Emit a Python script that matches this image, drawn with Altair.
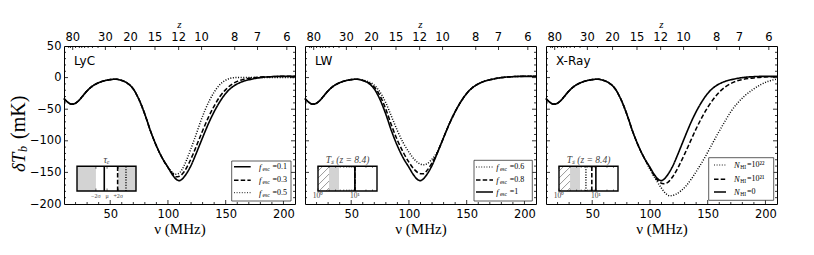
import altair as alt
import numpy as np
import pandas as pd

W, H = 231, 158

# ---------------- data ----------------
# fiducial brightness-temperature curve (solid line in every panel)
NU_FID = [10, 12, 14, 17, 20, 23, 26, 30, 35, 40, 45, 50, 55, 60, 65, 70, 75, 80, 85, 90,
          95, 100, 104, 108, 110, 112, 116, 120, 124, 128, 132, 136, 140, 145, 150, 155,
          160, 165, 170, 175, 180, 190, 200, 210]
DT_FID = [-33, -37, -40, -42, -40.5, -36, -29.5, -21, -13, -8, -5, -3.2, -2.5, -4.5, -9, -18,
          -35, -58, -85, -108, -127, -142, -154, -162, -163, -161, -152, -139, -122, -104,
          -86, -69, -54, -38, -25, -16, -10, -6, -3.5, -1.5, 0, 1.5, 2, 2]

# LyC panel: f_esc = 0.3 (dashed), 0.5 (dotted)
NU_LYC_03 = [104, 107, 110, 114, 118, 122, 126, 130, 135, 140, 145, 150, 155, 160, 165, 170,
             175, 180, 190, 200, 210]
DT_LYC_03 = [-152, -157, -156, -149, -136, -120, -102, -84, -63, -45, -30, -19, -11, -6, -3,
             -1.2, 0, 0.8, 1.5, 2, 2]
NU_LYC_05 = [104, 106, 109, 112, 116, 120, 124, 128, 132, 136, 140, 145, 150, 154, 158, 162,
             170, 180, 190, 200, 210]
DT_LYC_05 = [-150, -153, -152, -146, -131, -112, -92, -71, -52, -36, -23, -11, -4, -1, 0, 0,
             0, 0, 0, 0, 0]

# LW panel: f_esc = 0.8 (dashed), 0.6 (dotted)
NU_LW = [60, 65, 70, 75, 80, 85, 90, 95, 100, 105, 110, 113, 116, 120, 124, 128]
DT_LW_08 = [-4.5, -8, -15, -29, -50, -76, -99, -118, -134, -146, -152, -152, -146, -135, -121, -104]
DT_LW_06 = [-4, -6.5, -12, -23, -40, -62, -84, -103, -118, -130, -137, -138, -136, -129, -119, -104]

# X-ray panel: N_HI = 1e21 (dashed), 1e22 (dotted)
NU_X_21 = [100, 104, 108, 112, 116, 120, 125, 130, 135, 140, 145, 150, 155, 160, 165, 170,
           175, 180, 190, 200, 210]
DT_X_21 = [-143, -156, -165, -168, -165, -156, -140, -121, -101, -81, -63, -47, -34, -23, -15,
           -9.5, -5.5, -3, -0.5, 1, 1.5]
NU_X_22 = [96, 100, 105, 110, 114, 117, 122, 127, 131, 136, 141, 147, 153, 159, 165, 170, 176,
           182, 189, 196, 203, 210]
DT_X_22 = [-131, -145, -161, -175, -184, -187, -185, -179, -172, -160, -146, -128, -108, -88,
           -69, -54, -40, -29, -19, -11, -5.5, -2.5]

# axes
Z_MAJOR = [80, 30, 20, 15, 12, 10, 8, 7, 6]
Z_MINOR = [100, 90, 70, 60, 55, 50, 45, 40, 35, 25]
X_MAJOR = [50, 100, 150, 200]
X_MINOR = [20, 30, 40, 60, 70, 80, 90, 110, 120, 130, 140, 160, 170, 180, 190]
Y_LABELS = [-200, -150, -100, -50, 0, 50]
Y_MAJOR = [-150, -100, -50, 0]
Y_MINOR = [v for v in range(-190, 50, 10) if v % 50 != 0]
NU21 = 1420.4

# legends
LYC_FESC = ['0.1', '0.3', '0.5']
LW_FESC = ['0.6', '0.8', '1']
X_NHI = ['10²²', '10²¹', '0']

# insets
TAU_LIM = [-5.4, 5.2]          # sigma units
TAU_LINES = [3.4, 1.9, -0.5]   # dotted, dashed, solid
TAU_TICKS = [-2, 0, 2]
TAU_LABELS = ['−2σ', 'μ', '+2σ']
TS_LIM = [0.0, 1.6]            # log10 T_S
TS_HATCH = [0.0, 0.30]
TS_GRAY = [0.30, 0.57]
TS_LW_LINES = [1.0, 1.0, 1.0]  # dotted, dashed, solid
TS_X_LINES = [0.73, 0.89, 1.0]
TS_TICKS = [0, 1]
TS_LABELS = ['10⁰', '10¹']
TS_MINOR = [float(np.log10(v)) for v in [2, 3, 4, 5, 6, 7, 8, 9, 20, 30]]

# ---------------- styling ----------------
SANS = 'DejaVu Sans'
SERIF = 'Liberation Serif'
STYLES = ['solid', 'dashed', 'dotted']
DASH_MAP = {'solid': [1, 0], 'dashed': [4.5, 2.2], 'dotted': [1, 1.6]}
WIDTH_MAP = {'solid': 1.6, 'dashed': 1.5, 'dotted': 0.9}
XS = alt.Scale(domain=[10, 210], nice=False, zero=False)
YS = alt.Scale(domain=[-200, 50], nice=False, zero=False)
DASH = alt.Scale(domain=STYLES, range=[DASH_MAP[s] for s in STYLES])
WIDTH = alt.Scale(domain=STYLES, range=[WIDTH_MAP[s] for s in STYLES])
ONE = pd.DataFrame({'k': [0]})

XAXIS = alt.Axis(values=X_MAJOR, ticks=False, domain=False, grid=False, labelFont=SANS,
                 labelFontSize=11.5, labelColor='black', labelPadding=4, labelFlush=False,
                 title='ν (MHz)', titleFont=SERIF, titleFontSize=15, titleFontWeight='normal',
                 titleColor='black', titlePadding=2, orient='bottom')
YAXIS = alt.Axis(values=Y_LABELS, ticks=False, domain=False, grid=False, labelFont=SANS,
                 labelFontSize=11.5, labelColor='black', labelPadding=3, labelFlush=False,
                 title=None, orient='left')


def variant(nu, dt):
    pre = [(n, d) for n, d in zip(NU_FID, DT_FID) if n < nu[0]]
    post = [(n, d) for n, d in zip(NU_FID, DT_FID) if n > nu[-1]]
    pts = pre + list(zip(nu, dt)) + post
    return [p[0] for p in pts], [p[1] for p in pts]


def curves_chart(curves, show_y):
    frames = []
    for i, (nu, dt, st) in enumerate(curves):
        frames.append(pd.DataFrame({'nu': nu, 'dT': dt, 'style': st, 'cid': i}))
    df = pd.concat(frames, ignore_index=True)
    return alt.Chart(df).mark_line(color='black', interpolate='monotone').encode(
        x=alt.X('nu:Q', scale=XS, axis=XAXIS),
        y=alt.Y('dT:Q', scale=YS, axis=YAXIS if show_y else None),
        strokeDash=alt.StrokeDash('style:N', scale=DASH, legend=None),
        strokeWidth=alt.StrokeWidth('style:N', scale=WIDTH, legend=None),
        detail='cid:N')


def xticks(vals, length, top):
    df = pd.DataFrame({'nu': vals})
    y0, y1 = (0, length) if top else (H, H - length)
    return alt.Chart(df).mark_rule(color='black', strokeWidth=0.8).encode(
        x=alt.X('nu:Q', scale=XS, axis=None), y=alt.value(y0), y2=alt.value(y1))


def yticks(vals, length, right):
    df = pd.DataFrame({'dT': vals})
    x0, x1 = (W, W - length) if right else (0, length)
    return alt.Chart(df).mark_rule(color='black', strokeWidth=0.8).encode(
        y=alt.Y('dT:Q', scale=YS, axis=None), x=alt.value(x0), x2=alt.value(x1))


def text(t, x, y, size, font=SANS, style='normal', align='left', color='black', angle=0, dy=0):
    kw = dict(text=t, align=align, baseline='middle', font=font, fontSize=size,
              fontStyle=style, color=color)
    if angle:
        kw['angle'] = angle
    if dy:
        kw['dy'] = dy
    return alt.Chart(ONE).mark_text(**kw).encode(x=alt.value(x), y=alt.value(y))


def z_layers():
    zmaj = pd.DataFrame({'nu': [NU21 / (1 + z) for z in Z_MAJOR], 'lab': [str(z) for z in Z_MAJOR]})
    zmin = pd.DataFrame({'nu': [NU21 / (1 + z) for z in Z_MINOR]})
    labs = alt.Chart(zmaj).mark_text(font=SANS, fontSize=11.5, baseline='middle', color='black').encode(
        x=alt.X('nu:Q', scale=XS, axis=None), y=alt.value(-8), text='lab:N')
    tmaj = alt.Chart(zmaj).mark_rule(color='black', strokeWidth=0.8).encode(
        x=alt.X('nu:Q', scale=XS, axis=None), y=alt.value(0), y2=alt.value(4))
    tmin = alt.Chart(zmin).mark_rule(color='black', strokeWidth=0.8).encode(
        x=alt.X('nu:Q', scale=XS, axis=None), y=alt.value(0), y2=alt.value(2))
    ttl = text('z', W / 2, -21.5, 11, font=SERIF, style='italic', align='center')
    return [labs, tmaj, tmin, ttl]


IX0, IX1, IY0, IY1 = 13, 72, 120.3, 145


def hatch_df():
    ppx = (IX1 - IX0) / (TS_LIM[1] - TS_LIM[0])
    w = (TS_HATCH[1] - TS_HATCH[0]) * ppx
    h = IY1 - IY0
    rows = []
    for c in np.arange(-w + 3, h, 7.0):
        xs = max(0.0, -c)
        xe = min(w, h - c)
        if xe - xs < 0.5:
            continue
        rows.append({'a': TS_HATCH[0] + xs / ppx, 'b': TS_HATCH[0] + xe / ppx,
                     'c': (xs + c) / h, 'd': (xe + c) / h})
    return pd.DataFrame(rows)


def inset_layers(kind, line_pos, title):
    dom = TAU_LIM if kind == 'tau' else TS_LIM
    XI = alt.Scale(domain=dom, range=[IX0, IX1], nice=False, zero=False)
    YI = alt.Scale(domain=[0, 1], range=[IY1, IY0], nice=False, zero=False)

    def span_df(spans):
        return pd.DataFrame({'a': [s[0] for s in spans], 'b': [s[1] for s in spans],
                             'c': [0.0] * len(spans), 'd': [1.0] * len(spans)})

    def enc():
        return dict(x=alt.X('a:Q', scale=XI, axis=None), x2='b:Q',
                    y=alt.Y('c:Q', scale=YI, axis=None), y2='d:Q')

    L = [alt.Chart(span_df([dom])).mark_rect(fill='white').encode(**enc())]
    gray = [(dom[0], -2), (2, dom[1])] if kind == 'tau' else [tuple(TS_GRAY)]
    L.append(alt.Chart(span_df(gray)).mark_rect(fill='#d3d3d3').encode(**enc()))
    if kind == 'ts':
        L.append(alt.Chart(hatch_df()).mark_rule(color='#555555', strokeWidth=0.6).encode(**enc()))
    ldf = pd.DataFrame({'a': line_pos, 'style': ['dotted', 'dashed', 'solid'], 'c': 0.0, 'd': 1.0})
    L.append(alt.Chart(ldf).mark_rule(color='black').encode(
        x=alt.X('a:Q', scale=XI, axis=None),
        y=alt.Y('c:Q', scale=YI, axis=None), y2='d:Q',
        strokeDash=alt.StrokeDash('style:N', scale=DASH, legend=None),
        strokeWidth=alt.StrokeWidth('style:N', scale=WIDTH, legend=None)))
    L.append(alt.Chart(span_df([dom])).mark_rect(fillOpacity=0, stroke='black', strokeWidth=1.4).encode(**enc()))
    major = TAU_TICKS if kind == 'tau' else TS_TICKS
    minor = [] if kind == 'tau' else TS_MINOR
    for vals, ln in ((major, 2.5), (minor, 1.5)):
        if not vals:
            continue
        tdf = pd.DataFrame({'a': vals})
        for y0, y1 in ((IY1, IY1 - ln), (IY0, IY0 + ln)):
            L.append(alt.Chart(tdf).mark_rule(color='black', strokeWidth=0.6).encode(
                x=alt.X('a:Q', scale=XI, axis=None), y=alt.value(y0), y2=alt.value(y1)))
    labs = TAU_LABELS if kind == 'tau' else TS_LABELS
    ldf2 = pd.DataFrame({'a': major, 'lab': labs})
    L.append(alt.Chart(ldf2).mark_text(font=SERIF, fontSize=6 if kind == 'tau' else 7.5,
                                       baseline='middle', color='#444444').encode(
        x=alt.X('a:Q', scale=XI, axis=None), y=alt.value(IY1 + 4.5), text='lab:N'))
    L.append(text(title, (IX0 + IX1) / 2, IY0 - 6, 10 if kind == 'tau' else 9.5, font=SERIF,
                  style='italic', align='center', color='#444444'))
    return L


def legend_layers(box, rows_y, sample, tx, entries, sym, sub, sub_dx, eq_dx):
    L = [alt.Chart(ONE).mark_rect(fill='white', stroke='#333333', strokeWidth=0.8).encode(
        x=alt.value(box[0]), x2=alt.value(box[1]), y=alt.value(box[2]), y2=alt.value(box[3]))]
    for (st, val), yy in zip(entries, rows_y):
        L.append(alt.Chart(ONE).mark_rule(color='black', strokeDash=DASH_MAP[st],
                                          strokeWidth=WIDTH_MAP[st]).encode(
            x=alt.value(sample[0]), x2=alt.value(sample[1]), y=alt.value(yy)))
        L.append(text(sym, tx, yy, 8.5, font=SERIF, style='italic'))
        L.append(text(sub, tx + sub_dx, yy, 5.5, font=SERIF, dy=2))
        L.append(text('=' + val, tx + eq_dx, yy, 8, font=SERIF))
    return L


def panel(name, curves, show_y, inset, legend):
    # every positional scale here has an explicit domain, so independent scales coincide
    main = [curves_chart(curves, show_y),
            xticks(X_MAJOR, 4, False), xticks(X_MINOR, 2, False),
            yticks(Y_MAJOR, 4, False), yticks(Y_MINOR, 2, False),
            yticks(Y_MAJOR, 4, True), yticks(Y_MINOR, 2, True)]
    main += z_layers()
    main.append(text(name, 10, 15, 12))
    if show_y:
        main.append(text('δT', -45, 126, 19, font=SERIF, style='italic', angle=270))
        main.append(text('b', -41, 106, 12, font=SERIF, style='italic', angle=270))
        main.append(text('(mK)', -45, 93, 20, font=SERIF, angle=270))
    main += legend
    return alt.layer(*main, *inset).resolve_scale(
        x='independent', y='independent').properties(width=W, height=H)


n03, d03 = variant(NU_LYC_03, DT_LYC_03)
n05, d05 = variant(NU_LYC_05, DT_LYC_05)
nlw8, dlw8 = variant(NU_LW, DT_LW_08)
nlw6, dlw6 = variant(NU_LW, DT_LW_06)
nx21, dx21 = variant(NU_X_21, DT_X_21)
nx22, dx22 = variant(NU_X_22, DT_X_22)

p1 = panel('LyC',
           [(NU_FID, DT_FID, 'solid'), (n03, d03, 'dashed'), (n05, d05, 'dotted')], True,
           inset_layers('tau', TAU_LINES, 'τₑ'),
           legend_layers((167.7, 227, 115, 155), [120.7, 134.3, 146.7], (170, 186.7), 195,
                         list(zip(['solid', 'dashed', 'dotted'], LYC_FESC)), 'f', 'esc', 3.6, 13.5))
p2 = panel('LW',
           [(NU_FID, DT_FID, 'solid'), (nlw8, dlw8, 'dashed'), (nlw6, dlw6, 'dotted')], False,
           inset_layers('ts', TS_LW_LINES, 'Tₛ (z = 8.4)'),
           legend_layers((169, 227.3, 114.3, 155), [121, 134, 146], (171, 188), 191.3,
                         list(zip(['dotted', 'dashed', 'solid'], LW_FESC)), 'f', 'esc', 3.6, 13.5))
p3 = panel('X-Ray',
           [(NU_FID, DT_FID, 'solid'), (nx21, dx21, 'dashed'), (nx22, dx22, 'dotted')], False,
           inset_layers('ts', TS_X_LINES, 'Tₛ (z = 8.4)'),
           legend_layers((162.7, 227.7, 111.7, 154.3), [119, 133.3, 146], (168, 180), 188,
                         list(zip(['dotted', 'dashed', 'solid'], X_NHI)), 'N', 'HI', 6.3, 13))

chart = alt.hconcat(p1, p2, p3, spacing=2).properties(
    padding={'left': 0, 'top': 10, 'right': 4, 'bottom': 4}, background='white'
).configure_view(stroke='black', strokeWidth=1)

chart.save('out.html', embed_options={'renderer': 'svg', 'actions': False})
